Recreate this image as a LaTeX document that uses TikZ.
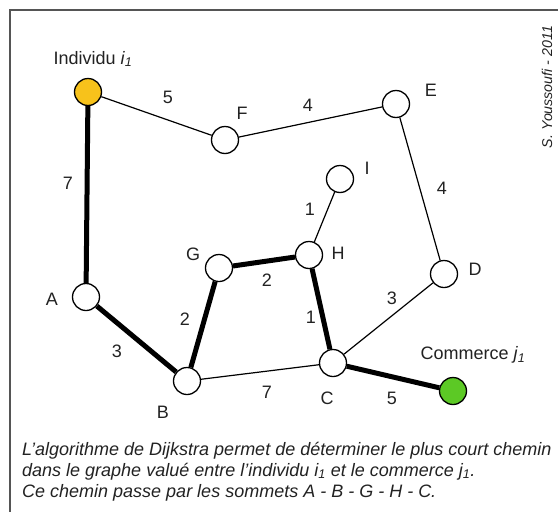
\documentclass[tikz,border=0pt]{standalone}
\usepackage{fontspec}
\setmainfont{Liberation Sans}
\definecolor{indiv}{HTML}{F7C21B}
\definecolor{comm}{HTML}{5CC925}
\definecolor{framegray}{HTML}{555555}
\definecolor{txt}{HTML}{222222}
\begin{document}
\begin{tikzpicture}[x=1pt,y=-1pt,
  vertex/.style={circle,draw=black,line width=1.3pt,fill=white,minimum size=27pt,inner sep=0pt},
  thin edge/.style={line width=1.2pt},
  thick edge/.style={line width=5pt},
  lbl/.style={font=\fontsize{18}{20}\selectfont,text=txt,inner sep=0pt},
  wt/.style={font=\fontsize{18}{20}\selectfont,text=txt,inner sep=0pt},
  captext/.style={font=\fontsize{18}{21}\selectfont\itshape,text=txt,inner sep=0pt,anchor=base west}]
\useasboundingbox (0,0) rectangle (558,512);
\fill[white] (0,0) rectangle (558,512);
\draw[framegray,line width=1.3pt] (10,512) -- (10,10) -- (558,10);
% vertices
\node[vertex,fill=indiv] (i1) at (88,92) {};
\node[vertex] (F) at (225,140) {};
\node[vertex] (E) at (396,104) {};
\node[vertex] (I) at (340,179) {};
\node[vertex] (H) at (309,255) {};
\node[vertex] (G) at (219,268) {};
\node[vertex] (D) at (444,274) {};
\node[vertex] (A) at (86,297) {};
\node[vertex] (B) at (187,381) {};
\node[vertex] (C) at (333,363) {};
\node[vertex,fill=comm] (j1) at (453,391) {};
% edges
\draw[thin edge] (i1) -- (F);
\draw[thin edge] (F) -- (E);
\draw[thin edge] (E) -- (D);
\draw[thin edge] (I) -- (H);
\draw[thin edge] (D) -- (C);
\draw[thin edge] (B) -- (C);
\draw[thick edge] (i1) -- (A);
\draw[thick edge] (A) -- (B);
\draw[thick edge] (B) -- (G);
\draw[thick edge] (G) -- (H);
\draw[thick edge] (H) -- (C);
\draw[thick edge] (C) -- (j1);
% vertex labels
\node[lbl] (li1) at (93,59) {Individu \textit{i}\textsubscript{\textit{1}}};
\node[lbl] (lF) at (242,113) {F};
\node[lbl] (lE) at (431,90) {E};
\node[lbl] (lI) at (367,168) {I};
\node[lbl] (lH) at (338,253) {H};
\node[lbl] (lG) at (193,254) {G};
\node[lbl] (lD) at (475,269) {D};
\node[lbl] (lA) at (52,299) {A};
\node[lbl] (lB) at (163,412) {B};
\node[lbl] (lC) at (327,398) {C};
\node[lbl] (lj1) at (473,355) {Commerce \textit{j}\textsubscript{\textit{1}}};
% weights
\node[wt] (w1) at (168,97) {5};
\node[wt] (w2) at (308,105) {4};
\node[wt] (w3) at (442,188) {4};
\node[wt] (w4) at (68,183) {7};
\node[wt] (w5) at (310,209) {1};
\node[wt] (w6) at (267,280) {2};
\node[wt] (w7) at (185,319) {2};
\node[wt] (w8) at (117,351) {3};
\node[wt] (w9) at (392,298) {3};
\node[wt] (w10) at (311,317) {1};
\node[wt] (w11) at (267,392) {7};
\node[wt] (w12) at (392,398) {5};
% credit
\node[font=\fontsize{14.2}{16}\selectfont\itshape,text=txt,rotate=90,inner sep=0pt] (credit) at (547,87) {S. Youssoufi - 2011};
% caption
\node[captext] (cap1) at (22,455) {L'algorithme de Dijkstra permet de déterminer le plus court chemin};
\node[captext] (cap2) at (22,476) {dans le graphe valué entre l'individu i\textsubscript{1} et le commerce j\textsubscript{1}.};
\node[captext] (cap3) at (22,497) {Ce chemin passe par les sommets A - B - G - H - C.};
\end{tikzpicture}
\end{document}
